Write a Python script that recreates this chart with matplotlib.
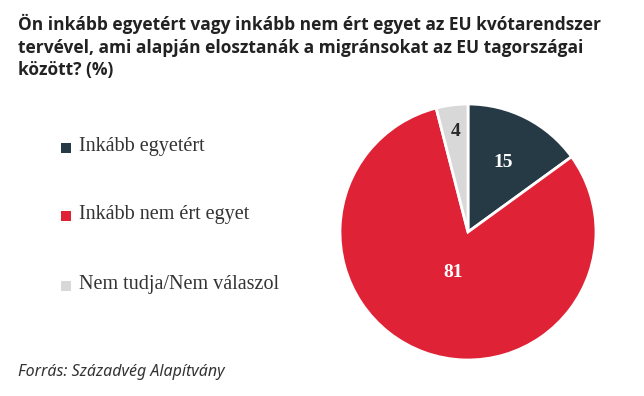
import numpy as np
import matplotlib
matplotlib.use("Agg")
import matplotlib.pyplot as plt
from matplotlib.patches import Rectangle

categories = ["Inkább egyetért", "Inkább nem ért egyet", "Nem tudja/Nem válaszol"]
values = [15, 81, 4]
value_labels = ["15", "81", "4"]
colors = ["#263a46", "#e02236", "#d8d8d8"]
label_colors = ["white", "white", "#2a2a2a"]
label_dist = [0.61, 0.34, 0.79]

title = ("Ön inkább egyetért vagy inkább nem ért egyet az EU kvótarendszer\n"
         "tervével, ami alapján elosztanák a migránsokat az EU tagországai\n"
         "között? (%)")
source = "Forrás: Századvég Alapítvány"

W, H = 644, 396
fig = plt.figure(figsize=(W / 100, H / 100), dpi=100)
fig.patch.set_facecolor("white")

cx, cy, r = 468, 232, 128
ax = fig.add_axes([(cx - r) / W, (H - cy - r) / H, 2 * r / W, 2 * r / H])
wedges, _ = ax.pie(values, colors=colors, startangle=90, counterclock=False,
                   radius=1.0, wedgeprops=dict(edgecolor="white", linewidth=2))
ax.set_xlim(-1, 1)
ax.set_ylim(-1, 1)
ax.set_aspect("equal")
ax.axis("off")

for w, lab, c, d in zip(wedges, value_labels, label_colors, label_dist):
    ang = np.deg2rad((w.theta1 + w.theta2) / 2)
    ax.text(d * np.cos(ang), d * np.sin(ang), lab, ha="center", va="center",
            color=c, fontsize=14, fontweight="bold", family="Liberation Serif")

fig.text(18 / W, 1 - 14 / H, title, ha="left", va="top", fontsize=12.5,
         fontweight="bold", family="Open Sans", color="#222222", linespacing=1.32)

rows_y = [148, 216, 286]
for cat, col, y in zip(categories, colors, rows_y):
    fig.add_artist(Rectangle(((61) / W, (H - y - 5) / H), 10 / W, 10 / H,
                             transform=fig.transFigure, facecolor=col,
                             edgecolor="none"))
    fig.text(79 / W, 1 - (y - 2) / H, cat, ha="left", va="center", fontsize=14.5,
             family="Liberation Serif", color="#333333")

fig.text(18 / W, 1 - 372 / H, source, ha="left", va="center", fontsize=11.5,
         style="italic", family="Noto Sans", color="#333333")

fig.savefig("out.png", dpi=100, facecolor="white")
